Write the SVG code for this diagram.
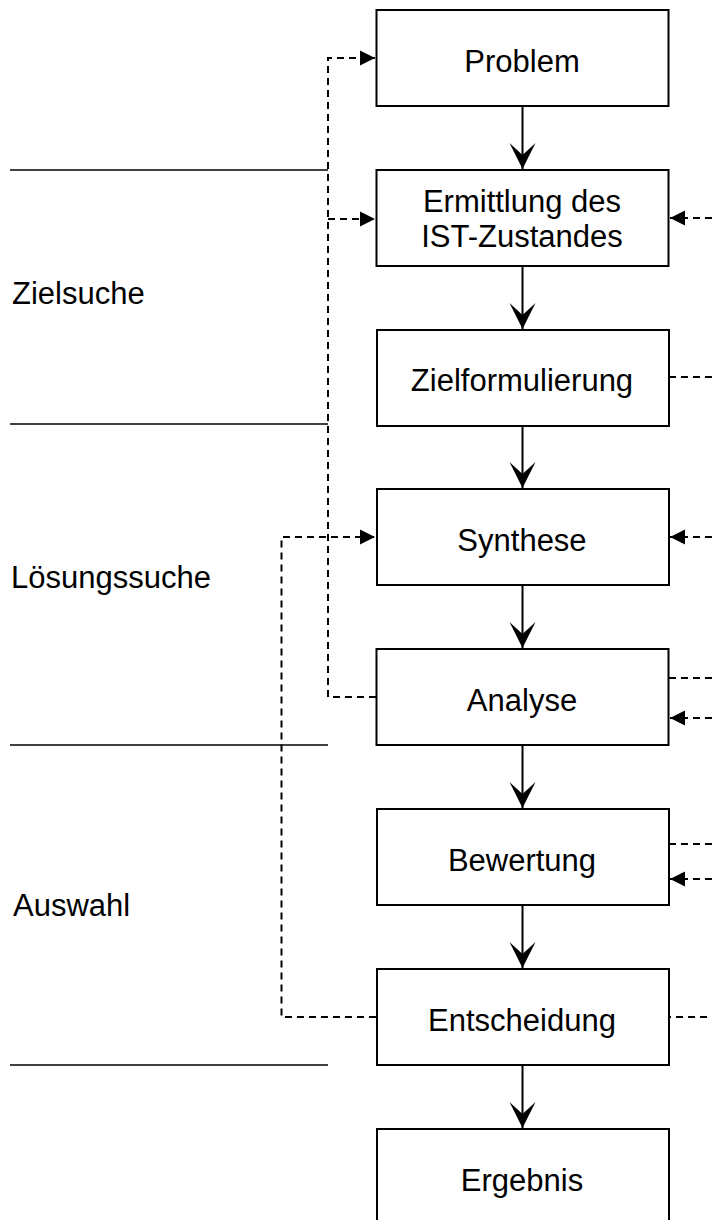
<svg xmlns="http://www.w3.org/2000/svg" width="712" height="1220" viewBox="0 0 712 1220">
<style>
.box{fill:#fff;stroke:#000;stroke-width:2}
.t{font-family:"Liberation Sans",Arial,sans-serif;font-size:31px;fill:#000}
.c{text-anchor:middle}
.solid{fill:none;stroke:#000;stroke-width:2}
.dash{fill:none;stroke:#000;stroke-width:2;stroke-dasharray:7 5}
.sep{fill:none;stroke:#000;stroke-width:1.5}
</style>
<defs>
<marker id="down" markerUnits="userSpaceOnUse" markerWidth="28" markerHeight="28" viewBox="-27 -14 28 28" refX="0" refY="0" orient="auto">
<path d="M0,0 L-26,-13 L-14,0 L-26,13 Z" fill="#000"/>
</marker>
<marker id="tri" markerUnits="userSpaceOnUse" markerWidth="16" markerHeight="16" viewBox="-16 -8 16 16" refX="0" refY="0" orient="auto">
<path d="M0,0 L-15,-7.5 L-15,7.5 Z" fill="#000"/>
</marker>
</defs>

<g id="separators">
<line class="sep" x1="10" y1="170" x2="328" y2="170"/>
<line class="sep" x1="10" y1="424" x2="328" y2="424"/>
<line class="sep" x1="10" y1="745" x2="328" y2="745"/>
<line class="sep" x1="10" y1="1065" x2="328" y2="1065"/>
</g>

<g id="labels">
<text class="t" x="12" y="304">Zielsuche</text>
<text class="t" x="11" y="588">Lösungssuche</text>
<text class="t" x="13" y="916">Auswahl</text>
</g>

<g id="connectors">
<line class="solid" x1="522.5" y1="106" x2="522.5" y2="169" marker-end="url(#down)"/>
<line class="solid" x1="522.5" y1="266" x2="522.5" y2="329" marker-end="url(#down)"/>
<line class="solid" x1="522.5" y1="426" x2="522.5" y2="488" marker-end="url(#down)"/>
<line class="solid" x1="522.5" y1="585" x2="522.5" y2="648" marker-end="url(#down)"/>
<line class="solid" x1="522.5" y1="745" x2="522.5" y2="808" marker-end="url(#down)"/>
<line class="solid" x1="522.5" y1="905" x2="522.5" y2="968" marker-end="url(#down)"/>
<line class="solid" x1="522.5" y1="1065" x2="522.5" y2="1128" marker-end="url(#down)"/>
<path class="dash" d="M376,697 L328,697 L328,58 L375,58" marker-end="url(#tri)"/>
<path class="dash" d="M328,219 L375,219" marker-end="url(#tri)"/>
<path class="dash" d="M376,1017 L281.5,1017 L281.5,537 L375,537" marker-end="url(#tri)"/>
<path class="dash" d="M712,218 L670,218" marker-end="url(#tri)"/>
<path class="dash" d="M669,377 L712,377"/>
<path class="dash" d="M712,537 L670,537" marker-end="url(#tri)"/>
<path class="dash" d="M669,678 L712,678"/>
<path class="dash" d="M712,718 L670,718" marker-end="url(#tri)"/>
<path class="dash" d="M669,844 L712,844"/>
<path class="dash" d="M712,879 L670,879" marker-end="url(#tri)"/>
<path class="dash" d="M669,1017 L712,1017" stroke-dashoffset="5"/>
</g>

<g id="n-problem"><rect class="box" x="376.5" y="10" width="292" height="96"/><text class="t c" x="522" y="72">Problem</text></g>
<g id="n-ermittlung"><rect class="box" x="376.5" y="170" width="292" height="96"/><text class="t c" x="522" y="212">Ermittlung des</text><text class="t c" x="522" y="247">IST-Zustandes</text></g>
<g id="n-ziel"><rect class="box" x="377" y="330" width="292" height="96"/><text class="t c" x="522" y="391">Zielformulierung</text></g>
<g id="n-synthese"><rect class="box" x="377" y="489" width="292" height="96"/><text class="t c" x="522" y="551">Synthese</text></g>
<g id="n-analyse"><rect class="box" x="376.5" y="649" width="292" height="96"/><text class="t c" x="522" y="711">Analyse</text></g>
<g id="n-bewertung"><rect class="box" x="377" y="809" width="292" height="96"/><text class="t c" x="522" y="871">Bewertung</text></g>
<g id="n-entscheidung"><rect class="box" x="377" y="969" width="292" height="96"/><text class="t c" x="522" y="1031">Entscheidung</text></g>
<g id="n-ergebnis"><rect class="box" x="377" y="1129" width="292" height="96"/><text class="t c" x="522" y="1191">Ergebnis</text></g>
</svg>
